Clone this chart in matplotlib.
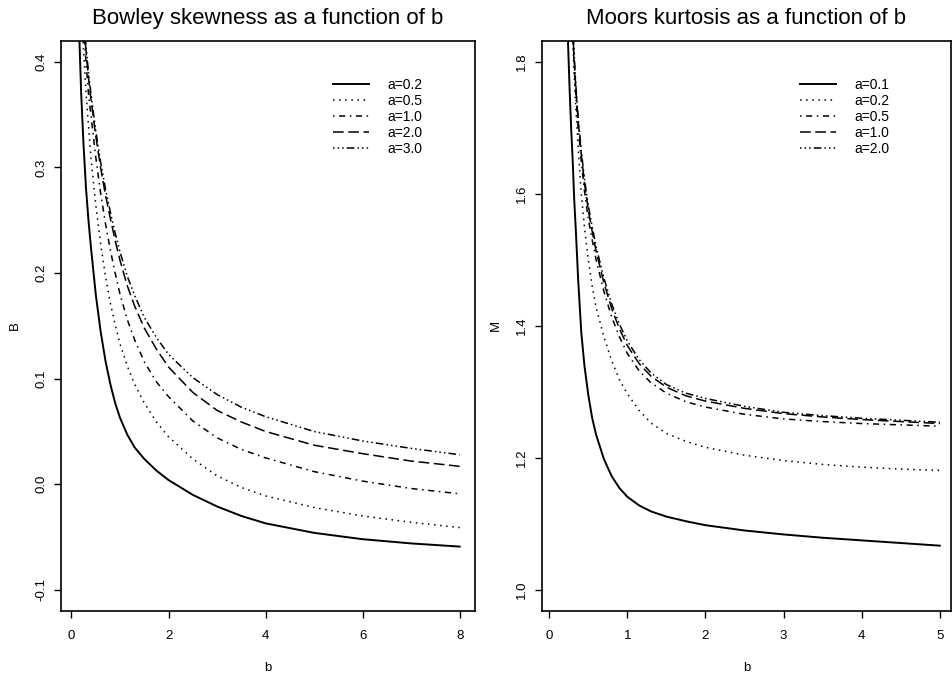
import numpy as np
import matplotlib
matplotlib.use("Agg")
import matplotlib.pyplot as plt

plt.rcParams['font.family'] = ['Liberation Sans', 'DejaVu Sans']

# ---- Bowley skewness (left panel) ----
b_left = [0.15, 0.2, 0.25, 0.3, 0.35, 0.4, 0.5, 0.6, 0.7, 0.8, 0.9, 1.0, 1.15, 1.3, 1.5, 1.75,
          2, 2.5, 3, 3.5, 4, 5, 6, 7, 8]
bowley_a02 = [0.44, 0.37, 0.32, 0.28, 0.25, 0.225, 0.18, 0.145, 0.117, 0.095, 0.077, 0.063, 0.047,
              0.035, 0.024, 0.013, 0.004, -0.010, -0.021, -0.030, -0.037, -0.046, -0.052, -0.056, -0.059]
bowley_a05 = [0.53, 0.46, 0.41, 0.37, 0.34, 0.31, 0.265, 0.228, 0.197, 0.172, 0.151, 0.133, 0.112,
              0.095, 0.077, 0.059, 0.045, 0.024, 0.008, -0.003, -0.011, -0.022, -0.030, -0.036, -0.041]
bowley_a10 = [0.54, 0.47, 0.43, 0.40, 0.37, 0.35, 0.31, 0.276, 0.247, 0.222, 0.200, 0.180, 0.156,
              0.137, 0.116, 0.097, 0.083, 0.060, 0.044, 0.033, 0.025, 0.012, 0.003, -0.004, -0.009]
bowley_a20 = [0.55, 0.48, 0.44, 0.41, 0.385, 0.365, 0.33, 0.30, 0.274, 0.252, 0.231, 0.212, 0.188,
              0.169, 0.148, 0.128, 0.111, 0.087, 0.070, 0.059, 0.050, 0.037, 0.029, 0.022, 0.017]
bowley_a30 = [0.55, 0.485, 0.445, 0.415, 0.39, 0.37, 0.335, 0.305, 0.28, 0.258, 0.238, 0.22, 0.197,
              0.179, 0.158, 0.139, 0.123, 0.101, 0.085, 0.073, 0.064, 0.050, 0.041, 0.034, 0.028]
left_labels = ['a=0.2', 'a=0.5', 'a=1.0', 'a=2.0', 'a=3.0']

# ---- Moors kurtosis (right panel) ----
b_right = [0.24, 0.26, 0.28, 0.3, 0.32, 0.34, 0.37, 0.41, 0.45, 0.5, 0.55, 0.6, 0.7, 0.8, 0.9, 1.0,
           1.15, 1.3, 1.5, 1.75, 2, 2.5, 3, 3.5, 4, 4.5, 5]
moors_a01 = [1.83, 1.76, 1.70, 1.65, 1.59, 1.545, 1.47, 1.39, 1.34, 1.295, 1.26, 1.235, 1.198, 1.172,
             1.154, 1.141, 1.128, 1.119, 1.111, 1.104, 1.098, 1.090, 1.084, 1.079, 1.075, 1.071, 1.067]
moors_a02 = [2.10, 2.00, 1.92, 1.84, 1.78, 1.73, 1.67, 1.60, 1.55, 1.50, 1.46, 1.428, 1.383, 1.347,
             1.318, 1.297, 1.272, 1.253, 1.237, 1.225, 1.216, 1.204, 1.196, 1.19, 1.186, 1.183, 1.181]
moors_a05 = [2.15, 2.03, 1.92, 1.84, 1.79, 1.75, 1.70, 1.65, 1.605, 1.562, 1.53, 1.50, 1.452, 1.413,
             1.383, 1.358, 1.332, 1.314, 1.298, 1.285, 1.277, 1.266, 1.259, 1.255, 1.252, 1.25, 1.248]
moors_a10 = [2.16, 2.04, 1.93, 1.85, 1.80, 1.76, 1.71, 1.66, 1.617, 1.575, 1.543, 1.513, 1.465, 1.426,
             1.395, 1.37, 1.343, 1.324, 1.307, 1.294, 1.286, 1.275, 1.267, 1.262, 1.258, 1.255, 1.252]
moors_a20 = [2.17, 2.05, 1.94, 1.86, 1.81, 1.765, 1.715, 1.665, 1.623, 1.582, 1.55, 1.52, 1.472, 1.433,
             1.402, 1.377, 1.349, 1.329, 1.311, 1.298, 1.29, 1.278, 1.269, 1.264, 1.26, 1.257, 1.254]
right_labels = ['a=0.1', 'a=0.2', 'a=0.5', 'a=1.0', 'a=2.0']

# R-like line types: solid, dotted, dotdash, longdash, dots-then-dash
styles = [
    dict(ls='-', lw=1.4),
    dict(ls=(0, (1, 3)), lw=1.1),
    dict(ls=(0, (1, 3, 4, 3)), lw=1.1),
    dict(ls=(0, (7, 3)), lw=1.1),
    dict(ls=(0, (1, 2, 1, 2, 1, 2, 5, 2)), lw=1.1),
]


def style_axes(ax, title, ylabel):
    ax.set_title(title, fontsize=16, pad=12)
    ax.set_xlabel('b', fontsize=9.5, labelpad=14)
    ax.set_ylabel(ylabel, fontsize=9.5, labelpad=10)
    ax.tick_params(direction='out', length=5, width=1.0, labelsize=9.5, pad=9)
    ax.tick_params(axis='y', pad=5)
    for lab in ax.get_yticklabels():
        lab.set_rotation(90)
        lab.set_va('center')
    for sp in ax.spines.values():
        sp.set_linewidth(1.2)


fig = plt.figure(figsize=(9.53, 6.75), dpi=100)

ax1 = fig.add_axes([0.0640, 0.0948, 0.4344, 0.8449])
for ys, st, lab in zip([bowley_a02, bowley_a05, bowley_a10, bowley_a20, bowley_a30], styles, left_labels):
    ax1.plot(b_left, ys, color='black', linestyle=st['ls'], linewidth=st['lw'], label=lab)
ax1.set_xlim(-0.216, 8.316)
ax1.set_ylim(-0.12, 0.42)
ax1.set_xticks([0, 2, 4, 6, 8])
ax1.set_yticks([-0.1, 0.0, 0.1, 0.2, 0.3, 0.4])
ax1.set_yticklabels(['-0.1', '0.0', '0.1', '0.2', '0.3', '0.4'])
style_axes(ax1, 'Bowley skewness as a function of b', 'B')
ax1.legend(loc='upper left', bbox_to_anchor=(0.657, 0.9345), frameon=False, fontsize=10,
           handlelength=2.6, handletextpad=1.3, labelspacing=0.145, borderpad=0, borderaxespad=0)

ax2 = fig.add_axes([0.5684, 0.0948, 0.4295, 0.8449])
for ys, st, lab in zip([moors_a01, moors_a02, moors_a05, moors_a10, moors_a20], styles, right_labels):
    ax2.plot(b_right, ys, color='black', linestyle=st['ls'], linewidth=st['lw'], label=lab)
ax2.set_xlim(-0.097, 5.143)
ax2.set_ylim(0.968, 1.832)
ax2.set_xticks([0, 1, 2, 3, 4, 5])
ax2.set_yticks([1.0, 1.2, 1.4, 1.6, 1.8])
ax2.set_yticklabels(['1.0', '1.2', '1.4', '1.6', '1.8'])
style_axes(ax2, 'Moors kurtosis as a function of b', 'M')
ax2.legend(loc='upper left', bbox_to_anchor=(0.631, 0.935), frameon=False, fontsize=10,
           handlelength=2.6, handletextpad=1.3, labelspacing=0.145, borderpad=0, borderaxespad=0)

fig.savefig('out.png', dpi=100)
